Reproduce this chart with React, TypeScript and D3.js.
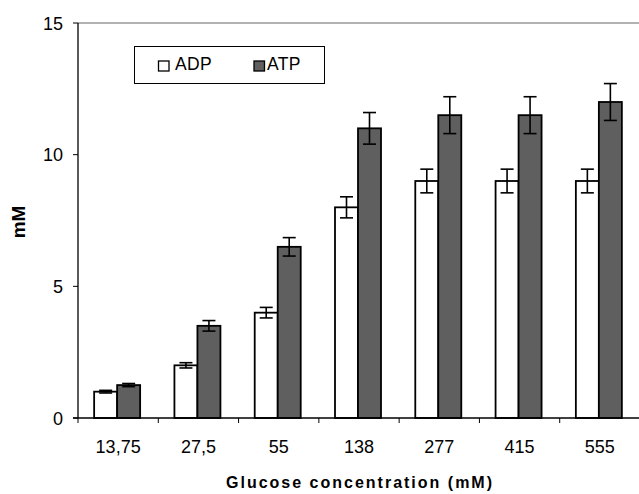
import React from "react";
import * as d3 from "d3";

const categories = ["13,75", "27,5", "55", "138", "277", "415", "555"];
const adpValues = [1.0, 2.0, 4.0, 8.0, 9.0, 9.0, 9.0];
const adpErrors = [0.05, 0.1, 0.2, 0.4, 0.45, 0.45, 0.45];
const atpValues = [1.25, 3.5, 6.5, 11.0, 11.5, 11.5, 12.0];
const atpErrors = [0.06, 0.2, 0.35, 0.6, 0.7, 0.7, 0.7];
const yTicks = [0, 5, 10, 15];
const seriesNames = ["ADP", "ATP"];

const W = 639;
const H = 494;
const left = 78;
const right = 640;
const top = 23;
const bottom = 418;
const FONT = "'Liberation Sans', Arial, sans-serif";

export default function App() {
  const x = d3.scaleBand<string>().domain(categories).range([left, right]).paddingInner(0).paddingOuter(0);
  const y = d3.scaleLinear().domain([0, 15]).range([bottom, top]);
  const barW = 23;

  const series = [
    { name: seriesNames[0], values: adpValues, errors: adpErrors, fill: "#ffffff", offset: -barW },
    { name: seriesNames[1], values: atpValues, errors: atpErrors, fill: "#5f5f5f", offset: 0 },
  ];

  return (
    <svg width={W} height={H} style={{ position: "absolute", left: 0, top: 0, background: "#fff" }}>
      {/* top frame line */}
      <line x1={left} x2={W} y1={y(15)} y2={y(15)} stroke="#999" strokeWidth={1.5} />

      {series.map((s) =>
        categories.map((c, i) => {
          const cx = x(c)! + x.bandwidth() / 2 - 1;
          const bx = cx + s.offset;
          const yv = y(s.values[i]);
          const e1 = y(s.values[i] + s.errors[i]);
          const e2 = y(s.values[i] - s.errors[i]);
          const mid = bx + barW / 2;
          return (
            <g key={s.name + c}>
              <rect x={bx} y={yv} width={barW} height={bottom - yv} fill={s.fill} stroke="#000" strokeWidth={1.8} />
              <line x1={mid} x2={mid} y1={e1} y2={e2} stroke="#000" strokeWidth={1.6} />
              <line x1={mid - 6.5} x2={mid + 6.5} y1={e1} y2={e1} stroke="#000" strokeWidth={1.6} />
              <line x1={mid - 6.5} x2={mid + 6.5} y1={e2} y2={e2} stroke="#000" strokeWidth={1.6} />
            </g>
          );
        })
      )}

      {/* y axis */}
      <line x1={left} x2={left} y1={top} y2={bottom} stroke="#000" strokeWidth={1.3} />
      {yTicks.map((t) => (
        <g key={t}>
          <line x1={left - 5} x2={left} y1={y(t)} y2={y(t)} stroke="#000" strokeWidth={1} />
          <text x={left - 15} y={y(t) + 6.5} textAnchor="end" fontFamily={FONT} fontSize={18} fill="#000">
            {t}
          </text>
        </g>
      ))}

      {/* x axis */}
      <line x1={left - 5} x2={W} y1={bottom} y2={bottom} stroke="#000" strokeWidth={1.3} />
      {categories.map((c) => (
        <g key={c}>
          <line x1={x(c)!} x2={x(c)!} y1={bottom} y2={bottom + 5} stroke="#000" strokeWidth={1} />
          <text x={x(c)! + x.bandwidth() / 2} y={453} textAnchor="middle" fontFamily={FONT} fontSize={18} fill="#000">
            {c}
          </text>
        </g>
      ))}

      <text x={360} y={488} textAnchor="middle" fontFamily={FONT} fontSize={16} fontWeight="bold" letterSpacing={2} fill="#000">
        Glucose concentration (mM)
      </text>
      <text transform={`translate(25,222) rotate(-90)`} textAnchor="middle" fontFamily={FONT} fontSize={19} fontWeight="bold" fill="#000">
        mM
      </text>

      {/* legend */}
      <rect x={134.5} y={46.5} width={190} height={37} fill="#fff" stroke="#000" strokeWidth={1} />
      <rect x={158.5} y={61} width={10.5} height={10} fill="#fff" stroke="#000" strokeWidth={1.3} />
      <text x={175} y={69.5} fontFamily={FONT} fontSize={17.5} letterSpacing={0.3} fill="#000">ADP</text>
      <rect x={254} y={61} width={10.5} height={10} fill="#5f5f5f" stroke="#000" strokeWidth={1.3} />
      <text x={267} y={69.5} fontFamily={FONT} fontSize={17.5} letterSpacing={0.3} fill="#000">ATP</text>
    </svg>
  );
}
